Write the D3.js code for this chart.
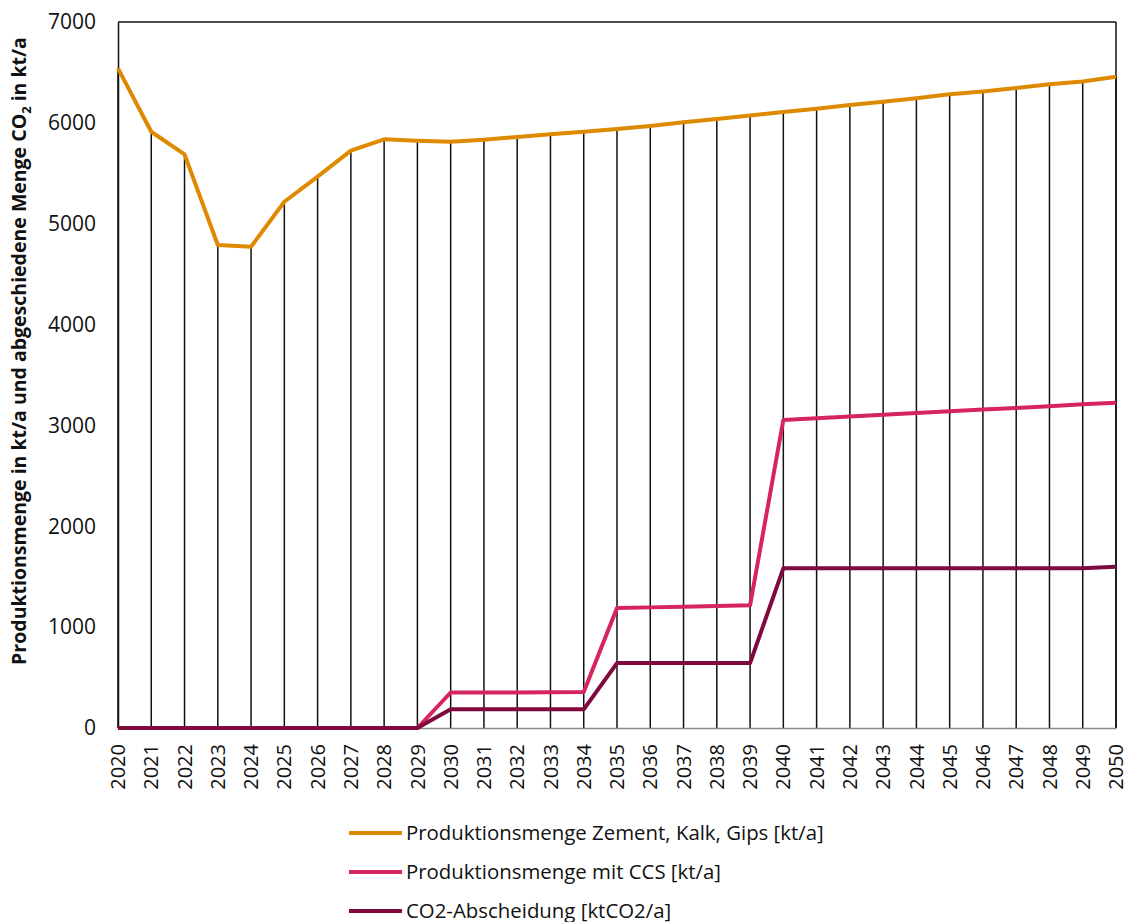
<!DOCTYPE html>
<html>
<head>
<meta charset="utf-8">
<script src="https://cdn.jsdelivr.net/npm/d3@7"></script>
<style>
  body { margin: 0; background: #fff; }
  text { font-family: "Open Sans", sans-serif; fill: #111; }
</style>
</head>
<body>
<div id="chart"></div>
<script>
var years = d3.range(2020, 2051);

var produktion = [6540, 5912, 5688, 4789, 4772, 5218, 5466, 5724, 5837, 5823,
    5812, 5833, 5860, 5886, 5913, 5939, 5969, 6005, 6038, 6074,
    6107, 6141, 6177, 6210, 6243, 6283, 6312, 6345, 6382, 6411, 6457];

var produktionCCS = [0, 0, 0, 0, 0, 0, 0, 0, 0, 0,
    352, 352, 353, 355, 358, 1190, 1196, 1202, 1209, 1216,
    3054, 3071, 3088, 3105, 3123, 3140, 3157, 3174, 3191, 3209, 3226];

var abscheidung = [0, 0, 0, 0, 0, 0, 0, 0, 0, 0,
    185, 185, 185, 185, 185, 644, 644, 644, 644, 644,
    1583, 1583, 1583, 1583, 1583, 1583, 1583, 1583, 1583, 1585, 1599];

var yTicks = [0, 1000, 2000, 3000, 4000, 5000, 6000, 7000];

var seriesNames = [
    "Produktionsmenge Zement, Kalk, Gips [kt/a]",
    "Produktionsmenge mit CCS [kt/a]",
    "CO2-Abscheidung [ktCO2/a]"
];
var seriesColors = ["#DE8A00", "#D6245E", "#7E0A3E"];
var seriesData = [produktion, produktionCCS, abscheidung];

var svg = d3.select("#chart")
    .append("svg")
    .attr("width", 1127)
    .attr("height", 922);

var x = d3.scalePoint()
    .domain(years)
    .range([118, 1116]);

var y = d3.scaleLinear()
    .domain([0, 7000])
    .range([728, 22]);

// frame: top and right
svg.append("line")
    .attr("x1", x(2020)).attr("x2", x(2050))
    .attr("y1", y(7000)).attr("y2", y(7000))
    .attr("stroke", "#111").attr("stroke-width", 1.5);
svg.append("line")
    .attr("x1", x(2050)).attr("x2", x(2050))
    .attr("y1", y(7000)).attr("y2", y(0))
    .attr("stroke", "#111").attr("stroke-width", 1.5);

// drop lines
svg.selectAll("line.drop")
    .data(years)
    .enter()
    .append("line")
    .attr("class", "drop")
    .attr("x1", function(d){return x(d)})
    .attr("x2", function(d){return x(d)})
    .attr("y1", y(0))
    .attr("y2", function(d, i){return y(produktion[i])})
    .attr("stroke", "#111")
    .attr("stroke-width", 1.5);

// y axis
var yAxis = svg.append("g")
    .attr("transform", "translate(" + x(2020) + ",0)")
    .call(d3.axisLeft(y).tickValues(yTicks).tickSize(0).tickPadding(22).tickFormat(d3.format("d")));
yAxis.select(".domain").attr("stroke", "#111").attr("stroke-width", 1.5);
yAxis.selectAll("text")
    .style("font-size", "21px")
    .style("font-family", "'Open Sans', sans-serif");

// x axis
var xAxis = svg.append("g")
    .attr("transform", "translate(0," + y(0) + ")")
    .call(d3.axisBottom(x).tickSize(0).tickPadding(0));
xAxis.select(".domain").attr("stroke", "#888").attr("stroke-width", 1.5);
xAxis.selectAll("text")
    .style("font-size", "20px")
    .style("font-family", "'Open Sans', sans-serif")
    .attr("text-anchor", "end")
    .attr("dy", "0.33em")
    .attr("transform", "translate(0,16) rotate(-90)");

// series lines
var line = d3.line()
    .x(function(d, i){return x(years[i])})
    .y(function(d){return y(d)});

seriesData.forEach(function(data, k) {
    svg.append("path")
        .datum(data)
        .attr("fill", "none")
        .attr("stroke", seriesColors[k])
        .attr("stroke-width", 4)
        .attr("stroke-linejoin", "round")
        .attr("d", line);
});

// y label
var yLabel = svg.append("text")
    .attr("transform", "translate(26," + 351 + ") rotate(-90)")
    .attr("text-anchor", "middle")
    .style("font-size", "19.5px")
    .style("font-weight", "bold");
yLabel.append("tspan").text("Produktionsmenge in kt/a und abgeschiedene Menge CO");
yLabel.append("tspan").attr("dy", 5).style("font-size", "13px").text("2");
yLabel.append("tspan").attr("dy", -5).text(" in kt/a");

// legend
var legend = svg.selectAll("g.legend")
    .data(seriesNames)
    .enter()
    .append("g")
    .attr("class", "legend")
    .attr("transform", function(d, i){return "translate(349," + (833 + i * 39) + ")"});

legend.append("line")
    .attr("x1", 0).attr("x2", 53)
    .attr("y1", 0).attr("y2", 0)
    .attr("stroke", function(d, i){return seriesColors[i]})
    .attr("stroke-width", 4);

legend.append("text")
    .attr("x", 57)
    .attr("dy", "0.35em")
    .style("font-size", "20.4px")
    .text(function(d){return d});
</script>
</body>
</html>
